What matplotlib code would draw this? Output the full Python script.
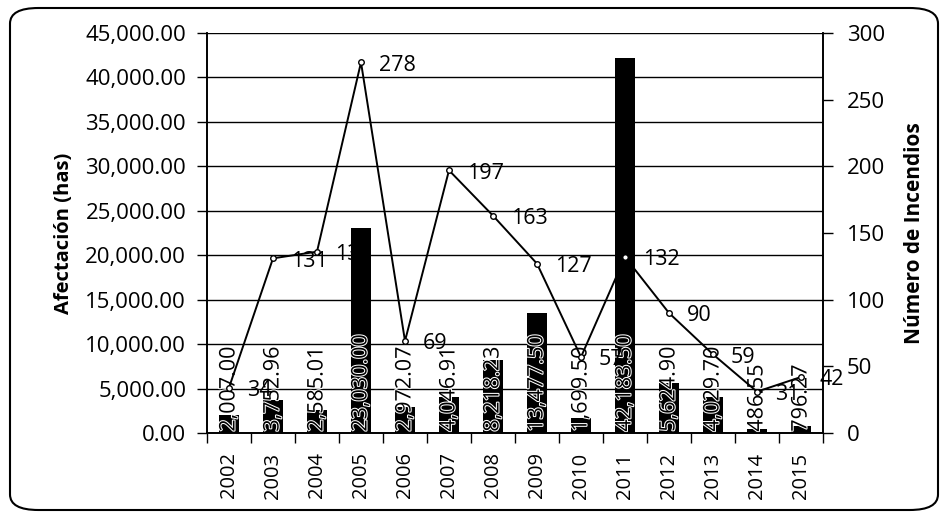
import matplotlib.pyplot as plt
import matplotlib.patheffects as pe
from matplotlib.patches import FancyBboxPatch
from matplotlib.ticker import FuncFormatter, MultipleLocator

# Superficie afectada (has) y número de incendios por año
anios = ["2002", "2003", "2004", "2005", "2006", "2007", "2008",
         "2009", "2010", "2011", "2012", "2013", "2014", "2015"]
afectacion = [2007.00, 3752.96, 2585.01, 23030.00, 2972.07, 4046.91, 8218.23,
              13477.50, 1699.50, 42183.50, 5624.90, 4029.70, 486.55, 796.27]
incendios = [34, 131, 136, 278, 69, 197, 163, 127, 57, 132, 90, 59, 31, 42]

plt.rcParams['font.family'] = ['Open Sans', 'DejaVu Sans']

fig = plt.figure(figsize=(9.47, 5.18), dpi=100)
ax = fig.add_axes([207 / 947, 1 - 433 / 518, (823 - 207) / 947, 400 / 518])
ax2 = ax.twinx()

x = list(range(len(anios)))

# barras de superficie
ax.bar(x, afectacion, width=0.45, color="black", zorder=2)
ax.set_xlim(-0.5, len(anios) - 0.5)
ax.set_ylim(0, 45000)
ax.yaxis.set_major_locator(MultipleLocator(5000))
ax.yaxis.set_major_formatter(FuncFormatter(lambda v, p: "{:,.2f}".format(v)))
ax.grid(axis="y", color="black", linewidth=1.0, zorder=0)
ax.set_axisbelow(True)

# marcas del eje x entre categorías
ax.set_xticks([i - 0.5 for i in range(len(anios) + 1)], minor=False)
ax.set_xticklabels([])
ax.set_xticks(x, minor=True)
ax.set_xticklabels(anios, minor=True, rotation=90, fontsize=14.5)
ax.tick_params(axis="x", which="major", length=7, direction="out", width=1)
ax.tick_params(axis="x", which="minor", length=0, pad=14)
ax.tick_params(axis="y", length=7, direction="out", labelsize=16, width=1, pad=8)

for v, h in zip(x, afectacion):
    ax.text(v, 150, "{:,.2f}".format(h), rotation=90, ha="center", va="bottom",
            fontsize=15.5, color="black", zorder=4,
            path_effects=[pe.withStroke(linewidth=1.5, foreground="white")])

# línea de número de incendios
ax2.plot(x, incendios, color="black", linewidth=1.4, marker="o",
         markersize=4, markerfacecolor="white", markeredgecolor="black", zorder=5)
ax2.set_ylim(0, 300)
ax2.yaxis.set_major_locator(MultipleLocator(50))
ax2.tick_params(axis="y", length=7, direction="out", labelsize=16, width=1, pad=10)
for v, n in zip(x, incendios):
    ax2.annotate(str(n), (v, n), xytext=(13, -2), textcoords="offset points",
                 ha="left", va="center", fontsize=15.5, zorder=6)

for a in (ax, ax2):
    a.spines["top"].set_visible(False)
    a.spines["bottom"].set_linewidth(1.2)
    a.spines["left"].set_linewidth(1.2)
    a.spines["right"].set_linewidth(1.2)

ax.set_ylabel("Afectación (has)", fontsize=14.5, fontweight="bold", labelpad=8)
ax2.set_ylabel("Número de Incendios", fontsize=15, fontweight="bold", labelpad=14)

# marco redondeado del gráfico
marco = FancyBboxPatch((10 / 947, 8 / 518), 928 / 947, 502 / 518,
                       boxstyle="round,pad=0,rounding_size=0.03",
                       transform=fig.transFigure, fill=False,
                       edgecolor="black", linewidth=1.5)
fig.patches.append(marco)

fig.savefig("out.png", dpi=100)
